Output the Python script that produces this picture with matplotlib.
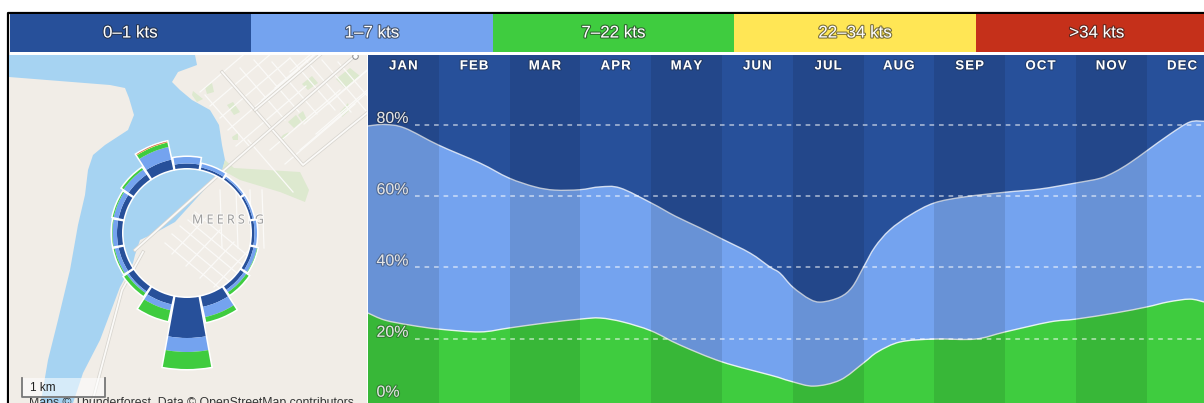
import numpy as np
import matplotlib
matplotlib.use("Agg")
import matplotlib.pyplot as plt
import matplotlib.patheffects as pe
from matplotlib.path import Path
from matplotlib.patches import PathPatch

W, H = 1204, 403

# legend
speed_labels = ["0–1 kts", "1–7 kts", "7–22 kts", "22–34 kts", ">34 kts"]
speed_colors = ["#27509a", "#74a3ef", "#3fcc3f", "#ffe655", "#c5301a"]

# monthly chart: x is in months from the left edge of JAN, y is cumulative %
months = ["JAN", "FEB", "MAR", "APR", "MAY", "JUN", "JUL", "AUG", "SEP", "OCT", "NOV", "DEC"]
top_x = [0, .24, .52, 1.0, 1.58, 1.99, 2.36, 2.64, 2.99, 3.28, 3.56, 4, 4.34, 4.69, 5, 5.4, 5.68, 5.82,
         6, 6.24, 6.41, 6.67, 6.84, 7, 7.16, 7.37, 7.66, 8, 8.43, 9, 9.49, 10, 10.34, 10.55, 10.76, 11,
         11.33, 11.61, 11.81]
top_y = [79.7, 80.1, 79.1, 74.3, 69.3, 65.1, 62.6, 61.7, 61.8, 62.6, 62.3, 58.1, 54.4, 51.1, 48.0, 44,
         40.1, 38.4, 34.5, 31.1, 30.3, 31.7, 34.5, 40.1, 45.7, 50.5, 54.7, 58.1, 59.8, 61.1, 62, 63.7,
         65, 66.8, 69.3, 72.7, 77.4, 80.8, 81]
green_x = [0, .24, .6, 1.0, 1.58, 1.99, 2.5, 3, 3.28, 3.6, 4, 4.41, 5, 5.68, 5.82, 6, 6.3, 6.67, 7, 7.2,
           7.52, 8, 8.58, 9, 9.63, 10, 10.55, 11, 11.3, 11.61, 11.81]
green_y = [27.2, 25.2, 23.8, 22.7, 21.9, 23, 24.4, 25.5, 25.8, 24.7, 22.2, 18.2, 13.5, 9.8, 9, 7.9, 6.7,
           8.4, 13.2, 16.3, 19.1, 19.9, 19.9, 21.9, 24.7, 25.5, 27.2, 28.9, 30.3, 31.1, 30.3]
grid_vals = [80, 60, 40, 20]
pct_labels = ["80%", "60%", "40%", "20%", "0%"]
pct_label_y = [81.8, 61.8, 41.8, 21.8, 5]

# wind rose, clockwise from N, thickness of each speed band
directions = np.arange(16) * 22.5
rose_dark = [4.5, 2, 2, 2, 2.5, 3, 4, 10.5, 40, 8, 6, 5, 5, 5, 6, 10]
rose_light = [6.5, 3.5, 1.5, 1.5, 2.5, 3.5, 3, 10.5, 14, 6, 2, 4, 4.5, 5, 6, 13]
rose_green = [0, 0, 0, 0, 0, .5, 3, 5, 17, 11, 3.5, 1, .5, 1, 2, 4.5]
rose_yellow = [0, 0, 0, 0, 0, 0, 0, 0, 0, 0, 0, 0, 0, 0, 0, .5]
rose_red = [0, 0, 0, 0, 0, 0, 0, 0, 0, 0, 0, 0, 0, 0, 0, .5]

# map background, in screen pixels
water_x = [9, 195, 197, 178, 172, 180, 192, 210, 219, 222, 225, 222, 215, 195, 175, 155, 140, 135, 133, 120,
           100, 83, 73, 40, 42, 48, 58, 70, 78, 85, 88, 93, 105, 128, 134, 129, 125, 110, 9]
water_y = [55, 55, 65, 72, 82, 90, 100, 110, 125, 145, 160, 172, 178, 200, 222, 233, 240, 255, 263, 287,
           340, 373, 403, 403, 395, 360, 320, 270, 225, 195, 170, 155, 145, 130, 115, 98, 88, 85, 77]
main_roads = [[(222, 72), (303, 165), (367, 113)],
              [(135, 250), (222, 172), (270, 130), (356, 55)],
              [(255, 110), (320, 55)],
              [(143, 252), (122, 290), (92, 403)]]
parks = [[(193, 91), (203, 99), (197, 102), (192, 95)], [(205, 87), (212, 83), (214, 92), (207, 94)],
         [(227, 105), (233, 102), (240, 112), (234, 115)], [(302, 84), (312, 76), (318, 83), (308, 90)],
         [(340, 112), (348, 103), (350, 110), (342, 117)], [(288, 122), (296, 115), (301, 122), (294, 128)],
         [(298, 115), (303, 111), (307, 120), (303, 122)], [(232, 137), (238, 133), (238, 140), (233, 140)],
         [(283, 135), (289, 132), (282, 142), (279, 140)], [(336, 79), (350, 68), (360, 76), (345, 88)],
         [(225, 160), (234, 168), (300, 172), (309, 190), (305, 202), (280, 192), (240, 180), (222, 170)]]
north_streets = [[(a, b), (a + 70, b - 60)] for a, b in
                 [(200, 92), (210, 106), (220, 118), (228, 130), (236, 146), (270, 150), (285, 164), (300, 150),
                  (262, 100), (275, 88), (290, 72), (304, 124), (316, 134), (328, 104)]]
cross_streets = [[(a, b), (a + 45, b + 52)] for a, b in
                 [(205, 95), (240, 68), (254, 60), (272, 62), (290, 58), (306, 60), (322, 60), (338, 62), (248, 140)]]
south_streets = [[(a, b), (a + 58, b + 48)] for a, b in
                 [(165, 243), (172, 234), (180, 226), (188, 220), (195, 212)]]
south_cross = [[(a, b), (a + 34, b - 36)] for a, b in [(172, 254), (186, 266), (200, 278), (214, 287)]]
east_streets = [[(a, 190), (a + 2, 248)] for a in [220, 236, 250, 262]]

fig = plt.figure(figsize=(W / 100, H / 100), dpi=100, facecolor="white")
plt.rcParams["font.family"] = ["Liberation Sans", "DejaVu Sans"]


def add_axes(x0, y0, x1, y1, **kw):
    return fig.add_axes([x0 / W, 1 - y1 / H, (x1 - x0) / W, (y1 - y0) / H], **kw)


def curve_path(xs, ys, floor=None):
    # bezier through the read points, the original chart is a smoothed line
    p = np.column_stack([xs, ys])
    verts = [p[0]]
    codes = [Path.MOVETO]
    for i in range(len(p) - 1):
        prev = p[max(i - 1, 0)]
        after = p[min(i + 2, len(p) - 1)]
        verts += [p[i] + (p[i + 1] - prev) / 6, p[i + 1] - (after - p[i]) / 6, p[i + 1]]
        codes += [Path.CURVE4] * 3
    if floor is not None:
        verts += [(xs[-1], floor), (xs[0], floor), p[0]]
        codes += [Path.LINETO, Path.LINETO, Path.CLOSEPOLY]
    return Path(verts, codes)


# black frame
frame = add_axes(0, 0, W, H)
frame.set_xlim(0, W)
frame.set_ylim(H, 0)
frame.axis("off")
frame.plot([8, 8, W], [H, 13, 13], color="black", lw=1.6)

# legend bar
leg = add_axes(9.5, 14, W, 52)
leg.set_xlim(0, 4.944)
leg.set_ylim(0, 1)
leg.axis("off")
for i in range(5):
    leg.barh(0.5, 1, left=i, height=1, color=speed_colors[i])
    leg.text(i + .5, .5, speed_labels[i], color="white", fontsize=12.2, ha="center", va="center",
             path_effects=[pe.withStroke(linewidth=1.6, foreground="#222222", alpha=.6)])

# map
m = add_axes(9, 55, 367, H)
m.set_xlim(9, 367)
m.set_ylim(H, 55)
m.axis("off")
m.add_patch(plt.Rectangle((9, 55), 358, 348, color="#f1ede7", zorder=0))
m.fill(water_x, water_y, color="#a6d3f2", lw=0, zorder=1)
for p in parks:
    xs, ys = zip(*p)
    m.fill(xs, ys, color="#dde9cf", lw=0, zorder=2)
for group in [north_streets, cross_streets, south_streets, south_cross, east_streets]:
    for s in group:
        xs, ys = zip(*s)
        m.plot(xs, ys, color="#fbfaf8", lw=.9, zorder=3)
for r in main_roads:
    xs, ys = zip(*r)
    m.plot(xs, ys, color="#d8d5cf", lw=2.4, zorder=4)
    m.plot(xs, ys, color="#fbfaf8", lw=1.3, zorder=4)
m.text(228, 220, "M E E R S I G", color="#9c9c9c", fontsize=9, ha="center", va="center",
       family="Open Sans", zorder=5, path_effects=[pe.withStroke(linewidth=1.5, foreground="white", alpha=.7)])
m.plot([355], [56], "o", ms=4, mfc="white", mec="#888888", mew=.7, zorder=5)
m.add_patch(plt.Rectangle((22, 378), 83, 20, color="white", alpha=.55, lw=0, zorder=6))
m.plot([22, 22, 105, 105], [378, 397, 397, 378], color="#777777", lw=1.3, zorder=7)
m.text(30, 388, "1 km", fontsize=8.5, color="#222222", va="center", zorder=7)
m.text(29, 403, "Maps © Thunderforest, Data © OpenStreetMap contributors", fontsize=8.85, color="#333333",
       va="center", zorder=5, clip_on=True)

# wind rose on top of the map
R = 150
rose = add_axes(187 - R, 233 - R, 187 + R, 233 + R, projection="polar")
rose.patch.set_alpha(0)
rose.axis("off")
rose.set_theta_zero_location("N")
rose.set_theta_direction(-1)
rose.set_rlim(0, R)
theta = np.radians(directions)
width = np.radians(20.5)
bands = [rose_dark, rose_light, rose_green, rose_yellow, rose_red]
totals = np.sum(bands, axis=0)
rose.bar(theta, totals, width=width, bottom=65, color="white", edgecolor="white", lw=2.2, zorder=1)
base = np.full(16, 65.0)
for vals, c in zip(bands, speed_colors):
    rose.bar(theta, vals, width=width, bottom=base, color=c, lw=0, zorder=2)
    base = base + np.array(vals)

# monthly area chart
ax = add_axes(368, 55, W, H)
ax.set_xlim(0, 11.81)
ax.set_ylim(1.96, 99.6)
ax.axis("off")
ax.fill_between([0, 11.81], 0, 100, color=speed_colors[0], lw=0, zorder=1)
ax.add_patch(PathPatch(curve_path(top_x, top_y, 0), fc=speed_colors[1], lw=0, zorder=2))
ax.add_patch(PathPatch(curve_path(green_x, green_y, 0), fc=speed_colors[2], lw=0, zorder=3))
ax.add_patch(PathPatch(curve_path(top_x, top_y), fc="none", ec="white", lw=1, alpha=.75, zorder=4))
ax.add_patch(PathPatch(curve_path(green_x, green_y), fc="none", ec="white", lw=1, alpha=.85, zorder=4))
for i in range(0, 12, 2):
    ax.axvspan(i, i + 1, color="black", alpha=.1, lw=0, zorder=5)
for v in grid_vals:
    ax.plot([.66, 11.81], [v, v], color="white", alpha=.5, lw=1.4, dashes=(2.4, 2.5), zorder=6)
halo = [pe.withStroke(linewidth=1.6, foreground="#222222", alpha=.35)]
for i, name in enumerate(months):
    ax.text(i + .5, 96.4, "\u200a".join(name), color="white", fontsize=9.5, weight="bold",
            ha="center", va="center", zorder=7, path_effects=halo)
for lab, y in zip(pct_labels, pct_label_y):
    ax.text(.12, y, lab, color="#e4e4e4", fontsize=11.5, ha="left", va="center", zorder=7, path_effects=halo)

fig.savefig("out.png", dpi=100)
